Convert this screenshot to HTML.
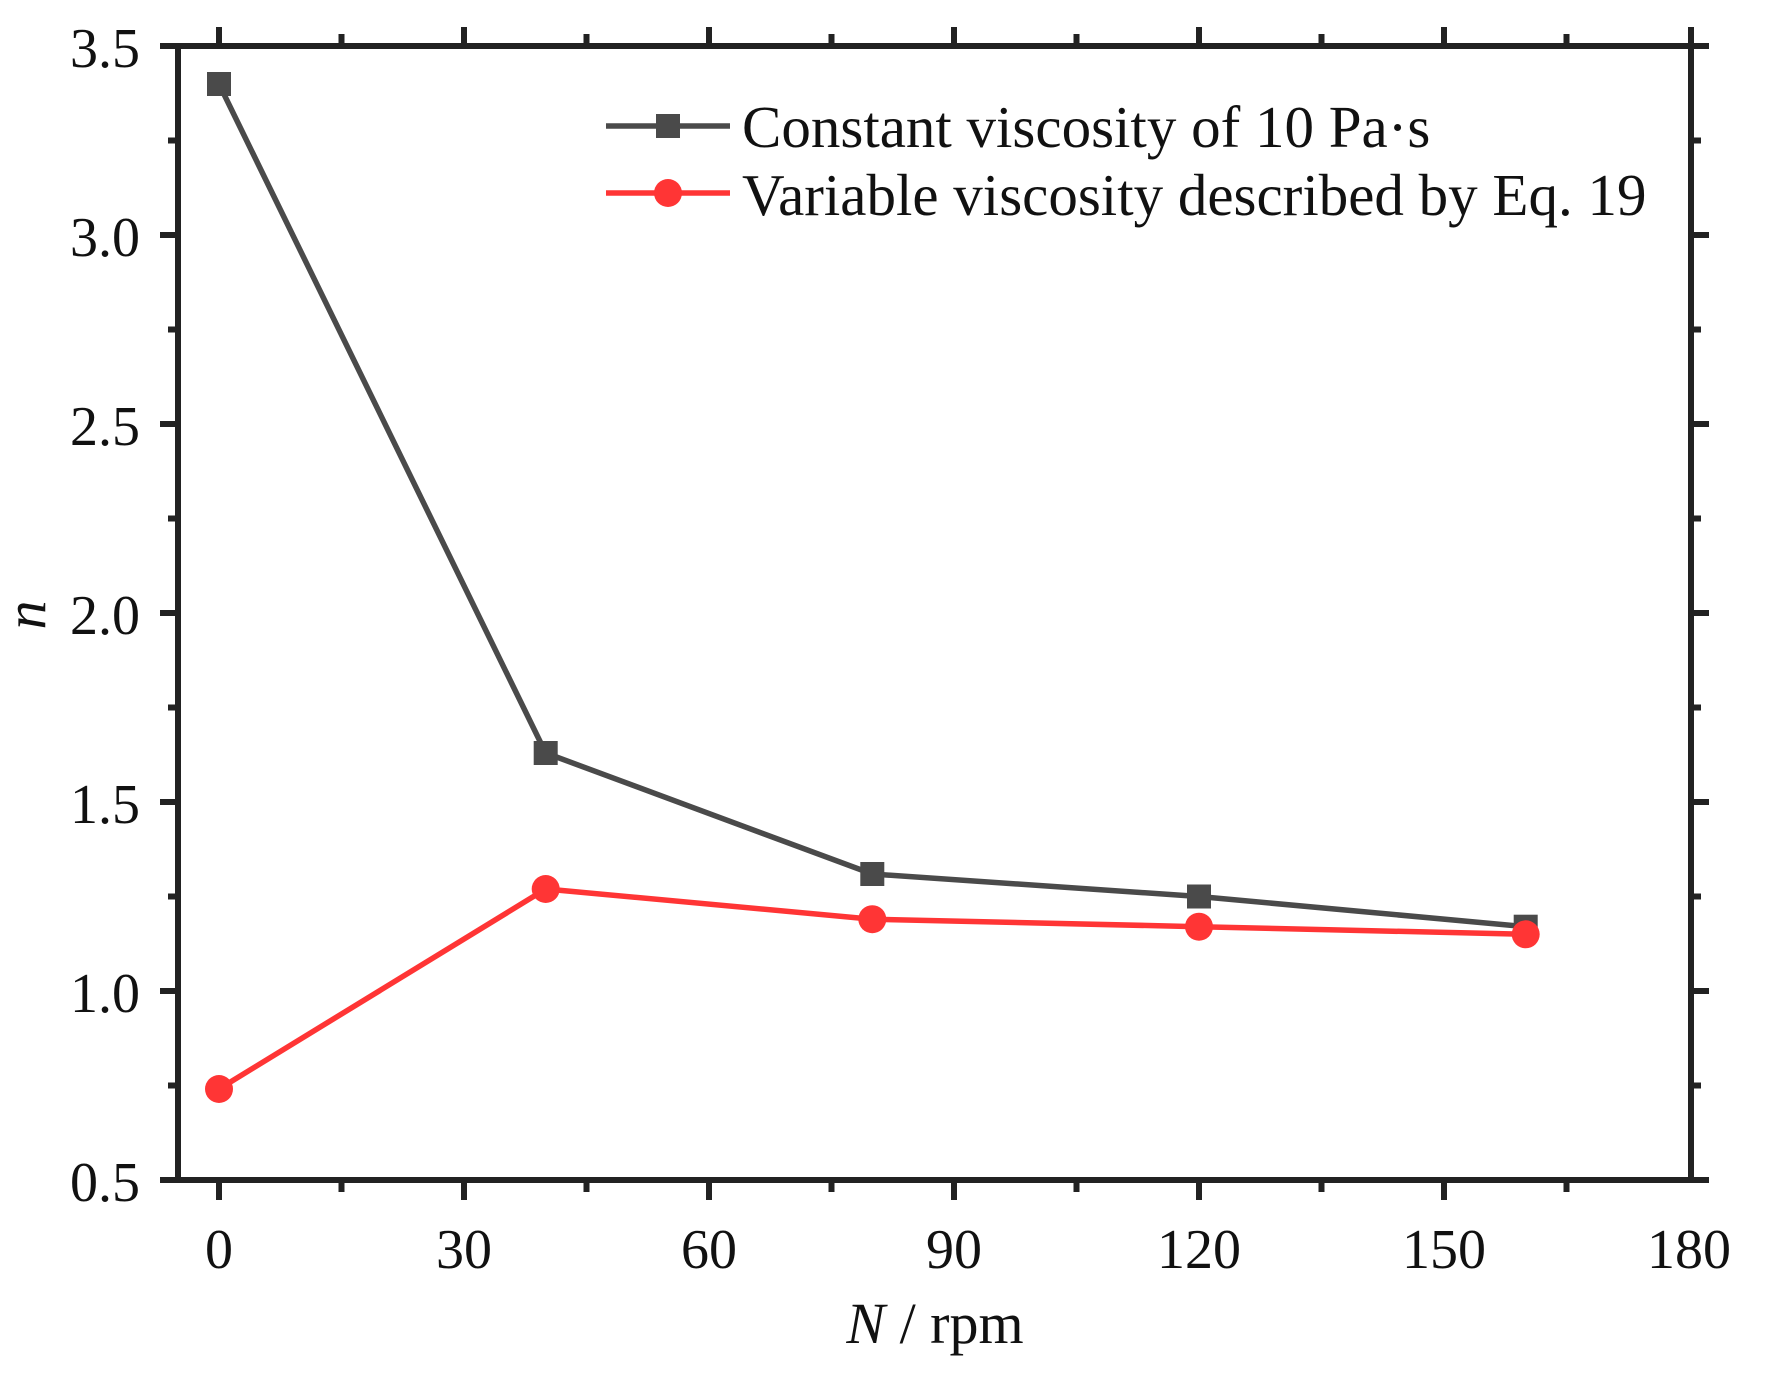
<!DOCTYPE html>
<html><head><meta charset="utf-8"><style>
html,body{margin:0;padding:0;background:#fff}
svg{display:block}
text{font-family:"Liberation Serif",serif;fill:#111}
</style></head><body>
<svg width="1775" height="1382" viewBox="0 0 1775 1382" xmlns="http://www.w3.org/2000/svg">
<g stroke="#222" stroke-width="6" fill="none">
<line x1="160" y1="1180" x2="1709" y2="1180"/>
<line x1="160" y1="46" x2="1709" y2="46"/>
<line x1="178" y1="43" x2="178" y2="1183"/>
<line x1="1691" y1="27" x2="1691" y2="1183"/>
</g>
<g stroke="#222" stroke-width="6">
<line x1="219" y1="1180" x2="219" y2="1200"/><line x1="464" y1="1180" x2="464" y2="1200"/><line x1="709" y1="1180" x2="709" y2="1200"/><line x1="954" y1="1180" x2="954" y2="1200"/><line x1="1199" y1="1180" x2="1199" y2="1200"/><line x1="1444" y1="1180" x2="1444" y2="1200"/>
<line x1="219" y1="46" x2="219" y2="27"/><line x1="464" y1="46" x2="464" y2="27"/><line x1="709" y1="46" x2="709" y2="27"/><line x1="954" y1="46" x2="954" y2="27"/><line x1="1199" y1="46" x2="1199" y2="27"/><line x1="1444" y1="46" x2="1444" y2="27"/>
<line x1="341.5" y1="1180" x2="341.5" y2="1192"/><line x1="586.5" y1="1180" x2="586.5" y2="1192"/><line x1="831.5" y1="1180" x2="831.5" y2="1192"/><line x1="1076.5" y1="1180" x2="1076.5" y2="1192"/><line x1="1321.5" y1="1180" x2="1321.5" y2="1192"/><line x1="1566.5" y1="1180" x2="1566.5" y2="1192"/>
<line x1="341.5" y1="46" x2="341.5" y2="34"/><line x1="586.5" y1="46" x2="586.5" y2="34"/><line x1="831.5" y1="46" x2="831.5" y2="34"/><line x1="1076.5" y1="46" x2="1076.5" y2="34"/><line x1="1321.5" y1="46" x2="1321.5" y2="34"/><line x1="1566.5" y1="46" x2="1566.5" y2="34"/>
<line x1="160" y1="235" x2="178" y2="235"/><line x1="160" y1="424" x2="178" y2="424"/><line x1="160" y1="613" x2="178" y2="613"/><line x1="160" y1="802" x2="178" y2="802"/><line x1="160" y1="991" x2="178" y2="991"/>
<line x1="1691" y1="235" x2="1709" y2="235"/><line x1="1691" y1="424" x2="1709" y2="424"/><line x1="1691" y1="613" x2="1709" y2="613"/><line x1="1691" y1="802" x2="1709" y2="802"/><line x1="1691" y1="991" x2="1709" y2="991"/>
<line x1="168" y1="140.5" x2="178" y2="140.5"/><line x1="168" y1="329.5" x2="178" y2="329.5"/><line x1="168" y1="518.5" x2="178" y2="518.5"/><line x1="168" y1="707.5" x2="178" y2="707.5"/><line x1="168" y1="896.5" x2="178" y2="896.5"/><line x1="168" y1="1085.5" x2="178" y2="1085.5"/>
<line x1="1691" y1="140.5" x2="1701" y2="140.5"/><line x1="1691" y1="329.5" x2="1701" y2="329.5"/><line x1="1691" y1="518.5" x2="1701" y2="518.5"/><line x1="1691" y1="707.5" x2="1701" y2="707.5"/><line x1="1691" y1="896.5" x2="1701" y2="896.5"/><line x1="1691" y1="1085.5" x2="1701" y2="1085.5"/>
</g>
<g font-size="56" text-anchor="end">
<text x="140" y="67">3.5</text><text x="140" y="256">3.0</text><text x="140" y="445">2.5</text><text x="140" y="634">2.0</text><text x="140" y="823">1.5</text><text x="140" y="1012">1.0</text><text x="140" y="1201">0.5</text>
</g>
<g font-size="56" text-anchor="middle">
<text x="219" y="1268">0</text><text x="464" y="1268">30</text><text x="709" y="1268">60</text><text x="954" y="1268">90</text><text x="1199" y="1268">120</text><text x="1444" y="1268">150</text><text x="1689" y="1268">180</text>
</g>
<text x="935" y="1343" font-size="58" text-anchor="middle"><tspan font-style="italic">N</tspan> / rpm</text>
<text transform="translate(45,615) rotate(-90)" font-size="58" font-style="italic" text-anchor="middle">n</text>
<polyline fill="none" stroke="#4a4a4a" stroke-width="5.5" points="219,84 545.7,753 872.3,874 1199,896.5 1525.7,926.7"/>
<g fill="#4a4a4a">
<rect x="207" y="72" width="24" height="24"/><rect x="533.7" y="741" width="24" height="24"/><rect x="860.3" y="862" width="24" height="24"/><rect x="1187" y="884.5" width="24" height="24"/><rect x="1513.7" y="914.7" width="24" height="24"/>
</g>
<polyline fill="none" stroke="#ff3535" stroke-width="5.5" points="219,1089 545.7,889 872.3,919.2 1199,926.7 1525.7,934.3"/>
<g fill="#ff3535">
<circle cx="219" cy="1089" r="14"/><circle cx="545.7" cy="889" r="14"/><circle cx="872.3" cy="919.2" r="14"/><circle cx="1199" cy="926.7" r="14"/><circle cx="1525.7" cy="934.3" r="14"/>
</g>
<line x1="606" y1="126" x2="730" y2="126" stroke="#4a4a4a" stroke-width="5.5"/>
<rect x="656" y="114" width="24" height="24" fill="#4a4a4a"/>
<line x1="606" y1="193" x2="730" y2="193" stroke="#ff3535" stroke-width="5.5"/>
<circle cx="668" cy="193" r="14" fill="#ff3535"/>
<text x="742" y="147" font-size="59">Constant viscosity of 10 Pa·s</text>
<text x="742" y="215" font-size="59">Variable viscosity described by Eq. 19</text>
</svg>
</body></html>
